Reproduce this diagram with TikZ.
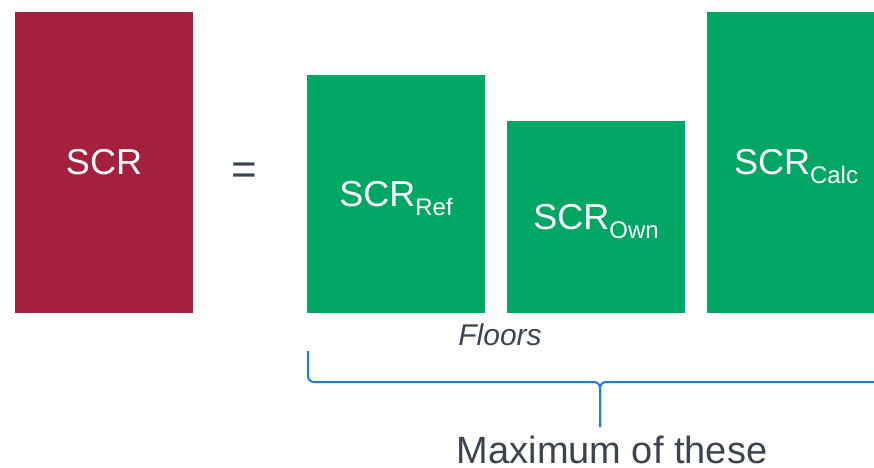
\documentclass[tikz,border=0pt]{standalone}
\usepackage{fontspec}
\setmainfont{Liberation Sans}

\definecolor{scrred}{HTML}{A51F3F}
\definecolor{floorgreen}{HTML}{00A664}
\definecolor{textgray}{HTML}{3C4450}
\definecolor{braceblue}{HTML}{1A7FD8}

% SCR with a lowered subscript that does not count in the box height
\newcommand{\scrsub}[1]{SCR\raisebox{-9pt}[0pt][0pt]{\fontsize{24}{28}\selectfont #1}}

\begin{document}
\begin{tikzpicture}[x=1pt,y=-1pt,
  bar/.style={fill=#1, text=white, inner sep=0pt, minimum width=178pt, anchor=south,
    font=\fontsize{36}{40}\selectfont},
  label/.style={text=textgray, inner sep=0pt, anchor=base},
  brace/.style={draw=braceblue, line width=2pt, rounded corners=6pt}]
\useasboundingbox (0,0) rectangle (874,467);
\clip (0,0) rectangle (874,467);

\node[bar=scrred, minimum height=301pt] (scr) at (104,313) {SCR};
\node[label, font=\fontsize{44}{48}\selectfont] (eq) at (244,184) {=};

\node[bar=floorgreen, minimum height=238pt] (ref) at (396,313) {\scrsub{Ref}};
\node[bar=floorgreen, minimum height=192pt] (own) at (596,313) {\scrsub{Own}};
\node[bar=floorgreen, minimum height=301pt] (calc) at (796,313) {\scrsub{Calc}};

\node[label, font=\fontsize{30}{34}\selectfont\itshape] (floors) at (500,345) {Floors};

% brace under the three floors
\coordinate (bl) at (308,351);
\coordinate (br) at (892,351);
\coordinate (bm) at (600,382);
\coordinate (bt) at (600,427);
\draw[brace] (bl) |- (bm) -- (bt);
\draw[brace] (br) |- (bm) -- (bt);

\node[label, font=\fontsize{38}{42}\selectfont] (max) at (612,463) {Maximum of these};
\end{tikzpicture}
\end{document}
